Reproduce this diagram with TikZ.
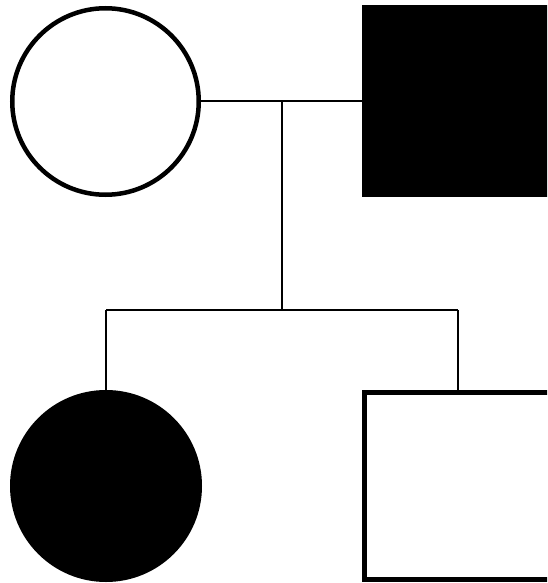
\documentclass[tikz,border=0pt]{standalone}
\begin{document}
\begin{tikzpicture}[x=1pt,y=-1pt,
  person/.style={inner sep=0pt,outer sep=0pt,line width=4.5pt},
  female/.style={person,circle},
  male/.style={person,rectangle},
  link/.style={line width=2pt}]
\useasboundingbox (0,0) rectangle (547,583);
\clip (0,0) rectangle (547,583);
\fill[white] (0,0) rectangle (547,583);
\node[female,draw=black,fill=white,minimum size=186.5pt] (mother) at (105.5,101.5) {};
\node[male,fill=black,minimum size=192pt] (father) at (458,101) {};
\node[female,fill=black,minimum size=192pt] (daughter) at (106,486) {};
\node[male,draw=black,fill=white,line width=5pt,minimum size=187pt] (son) at (458,486) {};
\coordinate (m) at (282,101.5);
\coordinate (s) at (282,310);
\coordinate (sl) at (106,310);
\coordinate (sr) at (458,310);
\draw[link] (mother.east) ++(2,0) -- (father.west |- mother.east);
\draw[link] (m) -- (s);
\draw[link] (sl) -- (sr);
\draw[link] (sl) -- (daughter.north);
\draw[link] (sr) -- ([yshift=2pt]son.north);
\end{tikzpicture}
\end{document}
